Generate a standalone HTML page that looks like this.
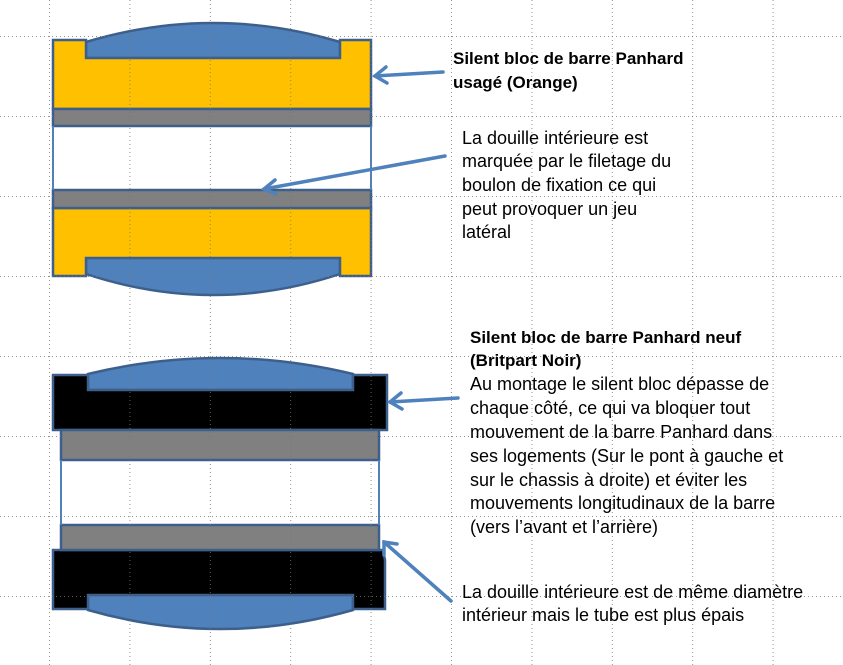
<!DOCTYPE html>
<html><head><meta charset="utf-8"><style>
html,body{margin:0;padding:0;background:#fff;}
svg{display:block;}
text{font-family:"Liberation Sans",sans-serif;fill:#000;}
.b{font-weight:bold;font-size:17px;}
.n{font-size:18px;}
</style></head><body>
<svg width="843" height="665" viewBox="0 0 843 665" xmlns="http://www.w3.org/2000/svg">
<defs>
<pattern id="gv" width="80.4" height="4" patternUnits="userSpaceOnUse" x="49" y="0"><rect x="0" y="0" width="1" height="1" fill="#777"/></pattern>
<pattern id="gh" width="4" height="80" patternUnits="userSpaceOnUse" x="0" y="36"><rect x="0" y="0" width="1" height="1" fill="#777"/></pattern>
</defs>
<!-- TOP (orange) -->
<g stroke="#3d5f8c" stroke-width="2.5" stroke-linejoin="miter">
<path d="M86,58 L86,42 Q213,4 340,42 L340,58 Z" fill="#4f81bd"/>
<path d="M86,258 L86,274 Q213,316 340,274 L340,258 Z" fill="#4f81bd"/>
<path d="M53,40 L86,40 L86,58 L340,58 L340,40 L371,40 L371,109 L53,109 Z" fill="#ffc000"/>
<path d="M53,208 L371,208 L371,276 L340,276 L340,258 L86,258 L86,276 L53,276 Z" fill="#ffc000"/>
<rect x="53" y="109" width="318" height="17" fill="#808080"/>
<rect x="53" y="190" width="318" height="18" fill="#808080"/>
</g>
<line x1="53" y1="126" x2="53" y2="190" stroke="#4f81bd" stroke-width="2"/>
<line x1="371" y1="126" x2="371" y2="190" stroke="#4f81bd" stroke-width="2"/>
<!-- BOTTOM (black) -->
<g stroke="#3d5f8c" stroke-width="2.5">
<path d="M88,390 L88,374 Q220,342 353,374 L353,390 Z" fill="#4f81bd"/>
<path d="M88,595 L88,610 Q220,648 353,610 L353,595 Z" fill="#4f81bd"/>
<path d="M53,375 L88,375 L88,390 L353,390 L353,375 L387,375 L387,430 L53,430 Z" fill="#000"/>
<path d="M53,550 L383,550 L385,560 L385,609 L353,609 L353,595 L88,595 L88,609 L53,609 Z" fill="#000"/>
<rect x="61" y="430" width="318" height="30" fill="#808080"/>
<rect x="61" y="525" width="318" height="25" fill="#808080"/>
</g>
<line x1="61" y1="460" x2="61" y2="525" stroke="#4f81bd" stroke-width="2"/>
<line x1="379" y1="460" x2="379" y2="525" stroke="#4f81bd" stroke-width="2"/>
<!-- grid -->
<rect x="0" y="0" width="843" height="665" fill="url(#gv)" opacity="0.8"/>
<rect x="0" y="0" width="843" height="665" fill="url(#gh)" opacity="0.8"/>
<!-- arrows -->
<g stroke="#4f81bd" stroke-width="3.5" fill="none" stroke-linecap="round">
<line x1="443" y1="72" x2="375" y2="76"/><polyline points="386,67 375,76 387,83"/>
<line x1="445" y1="156" x2="264" y2="189"/><polyline points="275,180 264,189 276,194"/>
<line x1="458" y1="398" x2="390" y2="402"/><polyline points="401,393 390,402 402,409"/>
<line x1="451" y1="601" x2="384" y2="542"/><polyline points="384,555 384,542 397,544"/>
</g>
<!-- text -->
<text class="b" x="453" y="64">Silent bloc de barre Panhard</text>
<text class="b" x="453" y="88">usagé (Orange)</text>
<text class="n" x="462" y="144">La douille intérieure est</text>
<text class="n" x="462" y="167">marquée par le filetage du</text>
<text class="n" x="462" y="191">boulon de fixation ce qui</text>
<text class="n" x="462" y="215">peut provoquer un jeu</text>
<text class="n" x="462" y="238">latéral</text>
<text class="b" x="470" y="343">Silent bloc de barre Panhard neuf</text>
<text class="b" x="470" y="366">(Britpart Noir)</text>
<text class="n" x="470" y="390">Au montage le silent bloc dépasse de</text>
<text class="n" x="470" y="414">chaque côté, ce qui va bloquer tout</text>
<text class="n" x="470" y="438">mouvement de la barre Panhard dans</text>
<text class="n" x="470" y="462">ses logements (Sur le pont à gauche et</text>
<text class="n" x="470" y="486">sur le chassis à droite) et éviter les</text>
<text class="n" x="470" y="509">mouvements longitudinaux de la barre</text>
<text class="n" x="470" y="533">(vers l’avant et l’arrière)</text>
<text class="n" x="462" y="598">La douille intérieure est de même diamètre</text>
<text class="n" x="462" y="621">intérieur mais le tube est plus épais</text>
</svg>
</body></html>
